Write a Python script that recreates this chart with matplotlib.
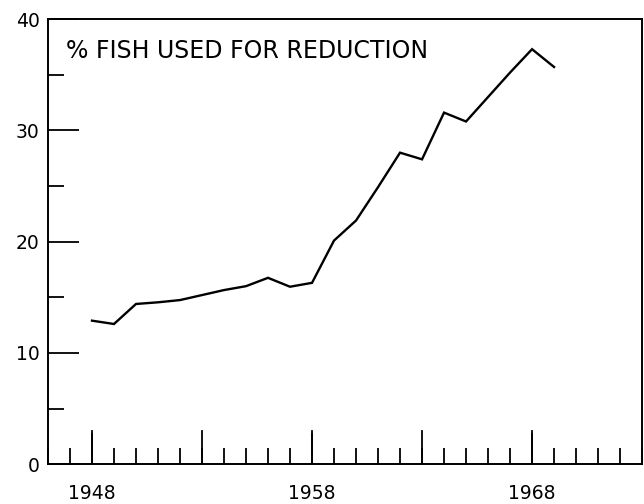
import numpy as np
import matplotlib
matplotlib.use('Agg')
import matplotlib.pyplot as plt
from matplotlib.ticker import MultipleLocator

# % of fish catch used for reduction
years = [1948, 1949, 1950, 1951, 1952, 1953, 1954, 1955, 1956, 1957, 1958,
         1959, 1960, 1961, 1962, 1963, 1964, 1965, 1966, 1967, 1968, 1969]
pct = [12.9, 12.6, 14.4, 14.55, 14.75, 15.2, 15.65, 16.0, 16.75, 15.95, 16.3,
       20.1, 21.9, 24.9, 28.0, 27.4, 31.6, 30.8, 33.0, 35.2, 37.3, 35.7]

year_ticks = [1948, 1958, 1968]
y_ticks = [0, 10, 20, 30, 40]
title = '% FISH USED FOR REDUCTION'

plt.rcParams['font.family'] = ['DejaVu Sans']

fig = plt.figure(figsize=(6.44, 5.04), dpi=100)
ax = fig.add_axes([0.0745, 0.079, 0.9225, 0.883])

ax.plot(years, pct, color='black', lw=1.7, solid_joinstyle='miter')

ax.set_xlim(1946, 1973)
ax.set_ylim(0, 40)

ax.set_xticks(year_ticks)
ax.set_xticklabels([str(y) for y in year_ticks])
ax.xaxis.set_minor_locator(MultipleLocator(1))
ax.set_yticks(y_ticks)
ax.yaxis.set_minor_locator(MultipleLocator(5))

# long ticks every 5 years (unlabelled ones too)
for yr in range(1948, 1973, 5):
    ax.plot([yr, yr], [0, 3.0], color='black', lw=1.3)

ax.tick_params(axis='both', which='major', direction='in', length=22, width=1.3,
               labelsize=13.5, color='black')
ax.tick_params(axis='both', which='minor', direction='in', length=11.5, width=1.3)
ax.tick_params(axis='x', which='major', pad=14)
ax.tick_params(axis='y', which='major', pad=6)

for s in ax.spines.values():
    s.set_linewidth(1.4)

ax.text(0.03, 0.928, title, transform=ax.transAxes, fontsize=17,
        ha='left', va='center')

fig.savefig('out.png', dpi=100)
